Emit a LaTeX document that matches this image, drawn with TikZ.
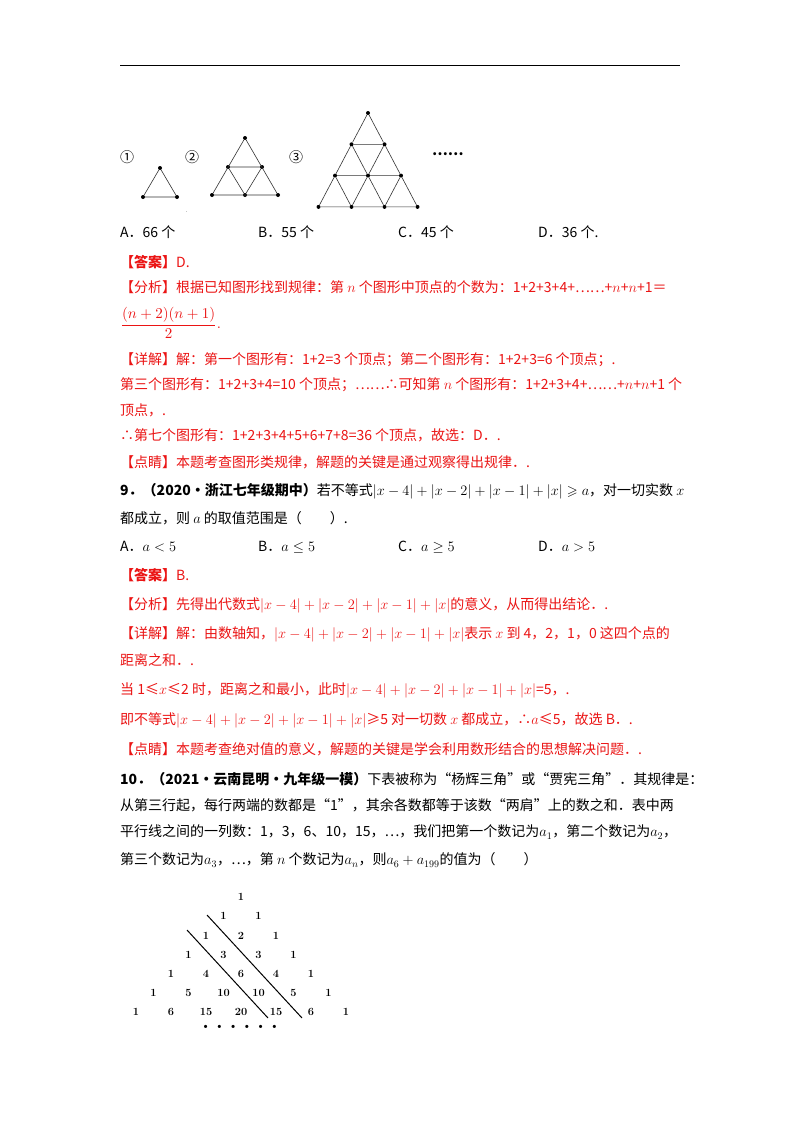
\documentclass[tikz,border=0pt]{standalone}
\usepackage{amsmath}
\usepackage{amssymb}
\usepackage{fontspec}
\newfontfamily\cjk{Noto Sans CJK SC}
\definecolor{ans}{RGB}{235,20,20}
\tikzset{
  ln/.style={anchor=west,inner sep=0pt,font=\cjk\fontsize{14}{16}\selectfont},
  rl/.style={ln,text=ans},
  vx/.style={circle,fill=black,inner sep=0pt,minimum size=4pt},
  ed/.style={line width=0.6pt,draw=black!80},
  pn/.style={inner sep=0pt,font=\bfseries\fontsize{11}{12}\selectfont}
}
\begin{document}
\begin{tikzpicture}[x=1pt,y=-1pt]
\useasboundingbox (0,0) rectangle (800,1132);
\fill[white] (0,0) rectangle (800,1132);
\draw[line width=0.8pt] (120,65) -- (680,65);
% figures
\node[ln] (l1) at (120,157) {①};
\node[ln] (l2) at (185,157) {②};
\node[ln] (l3) at (289,157) {③};
\node[ln] (dd) at (432,154) {\textbf{……}};
\foreach \n/\x/\y in {a/160/168,b/143/197,c/177/197}{\node[vx] (f1\n) at (\x,\y) {};}
\draw[ed] (f1a)--(f1b)--(f1c)--(f1a);
\foreach \n/\x/\y in {a/245/138,b/228/167,c/262/167,d/212/195,e/245/195,f/278/195}{\node[vx] (f2\n) at (\x,\y) {};}
\draw[ed] (f2a)--(f2d)--(f2f)--(f2a) (f2b)--(f2c)--(f2e)--(f2b);
\foreach \r in {0,...,3}{\foreach \k in {0,...,\r}{
  \node[vx] (g\r\k) at ({368+(\k-\r/2)*33},{113+\r*31.3}) {};}}
\foreach \r in {0,1,2}{\foreach \k in {0,...,\r}{
  \pgfmathtruncatemacro\rn{\r+1}\pgfmathtruncatemacro\kn{\k+1}
  \draw[ed] (g\r\k)--(g\rn\k) (g\r\k)--(g\rn\kn) (g\rn\k)--(g\rn\kn);}}
\node[ln] at (186,212) {\tiny .};
% Q8 answers
\node[ln] at (120,232) {A．66 个};
\node[ln] at (258,232) {B．55 个};
\node[ln] at (398,232) {C．45 个};
\node[ln] at (538,232) {D．36 个.};
\node[rl] at (120,262) {\textbf{【答案】}D.};
\node[rl] at (120,287) {【分析】根据已知图形找到规律：第 $n$ 个图形中顶点的个数为：1+2+3+4+……+$n$+$n$+1＝};
\node[anchor=west,inner sep=0pt,text=ans,scale=1.5] at (120,323) {$\dfrac{(n+2)(n+1)}{2}$.};
\node[rl] at (120,360) {【详解】解：第一个图形有：1+2=3 个顶点；第二个图形有：1+2+3=6 个顶点；.};
\node[rl] at (120,385) {第三个图形有：1+2+3+4=10 个顶点；……∴可知第 $n$ 个图形有：1+2+3+4+……+$n$+$n$+1 个};
\node[rl] at (120,410) {顶点，.};
\node[rl] at (120,435) {∴第七个图形有：1+2+3+4+5+6+7+8=36 个顶点，故选：D．.};
\node[rl] at (120,462) {【点睛】本题考查图形类规律，解题的关键是通过观察得出规律．.};
% Q9
\node[ln] at (120,491) {\textbf{9．（2020·浙江七年级期中）}若不等式$|x-4|+|x-2|+|x-1|+|x|\geqslant a$，对一切实数 $x$};
\node[ln] at (120,518) {都成立，则 $a$ 的取值范围是（\qquad）.};
\node[ln] at (120,547) {A．$a<5$};
\node[ln] at (258,547) {B．$a\leq5$};
\node[ln] at (398,547) {C．$a\geq5$};
\node[ln] at (538,547) {D．$a>5$};
\node[rl] at (120,575) {\textbf{【答案】}B.};
\node[rl] at (120,605) {【分析】先得出代数式$|x-4|+|x-2|+|x-1|+|x|$的意义，从而得出结论．.};
\node[rl] at (120,634) {【详解】解：由数轴知，$|x-4|+|x-2|+|x-1|+|x|$表示 $x$ 到 4，2，1，0 这四个点的};
\node[rl] at (120,660) {距离之和．.};
\node[rl] at (120,690) {当 1≤$x$≤2 时，距离之和最小，此时$|x-4|+|x-2|+|x-1|+|x|$=5，.};
\node[rl] at (120,720) {即不等式$|x-4|+|x-2|+|x-1|+|x|$≥5 对一切数 $x$ 都成立，∴$a$≤5，故选 B．.};
\node[rl] at (120,749) {【点睛】本题考查绝对值的意义，解题的关键是学会利用数形结合的思想解决问题．.};
% Q10
\node[ln] at (120,779) {\textbf{10．（2021·云南昆明·九年级一模）}下表被称为“杨辉三角”或“贾宪三角”．其规律是：};
\node[ln] at (120,805) {从第三行起，每行两端的数都是“1”，其余各数都等于该数“两肩”上的数之和．表中两};
\node[ln] at (120,832) {平行线之间的一列数：1，3，6、10，15，…，我们把第一个数记为$a_1$，第二个数记为$a_2$，};
\node[ln] at (120,860) {第三个数记为$a_3$，…，第 $n$ 个数记为$a_n$，则$a_6+a_{199}$的值为（\qquad）};
% Pascal triangle
\foreach \r/\vals in {0/{1},1/{1,1},2/{1,2,1},3/{1,3,3,1},4/{1,4,6,4,1},5/{1,5,10,10,5,1},6/{1,6,15,20,15,6,1}}{
  \foreach \v [count=\k from 0] in \vals {
    \node[pn] (p\r-\k) at ({241+(\k-\r/2)*35},{897+\r*19.2}) {\v};}}
\coordinate (s1) at (207,915); \coordinate (e1) at (302,1018);
\coordinate (s2) at (187,930); \coordinate (e2) at (268,1018);
\draw[line width=1pt] (s1)--(e1) (s2)--(e2);
\node[pn] (pd) at (240,1027) {• • • • • •};
\end{tikzpicture}
\end{document}
